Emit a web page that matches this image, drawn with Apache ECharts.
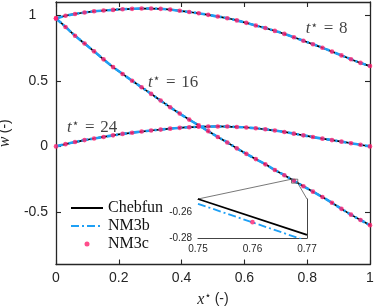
<!DOCTYPE html>
<html><head><meta charset="utf-8">
<script src="https://cdn.jsdelivr.net/npm/echarts@6/dist/echarts.min.js"></script>
<style>html,body{margin:0;padding:0;background:#fff}#c{width:374px;height:308px}</style>
</head><body><div id="c"></div>
<script>
// ---- data ----
const xGrid = [0,0.0303,0.0606,0.0909,0.1212,0.1515,0.1818,0.2121,0.2424,0.2727,0.3030,0.3333,0.3636,0.3939,0.4242,0.4545,0.4848,0.5152,0.5455,0.5758,0.6061,0.6364,0.6667,0.6970,0.7273,0.7576,0.7879,0.8182,0.8485,0.8788,0.9091,0.9394,0.9697,1];
const wT8  = [0.975,0.995,1.009,1.020,1.029,1.035,1.040,1.045,1.048,1.050,1.050,1.048,1.042,1.033,1.024,1.014,1.002,0.990,0.976,0.960,0.941,0.921,0.902,0.880,0.857,0.831,0.805,0.778,0.752,0.722,0.693,0.664,0.636,0.612];
const wT16 = [0.975,0.910,0.843,0.784,0.724,0.663,0.604,0.552,0.500,0.450,0.400,0.349,0.298,0.250,0.204,0.160,0.116,0.072,0.030,-0.015,-0.057,-0.097,-0.137,-0.180,-0.220,-0.262,-0.304,-0.345,-0.386,-0.430,-0.476,-0.520,-0.561,-0.600];
const wT24 = [0,0.017,0.033,0.048,0.060,0.072,0.084,0.095,0.104,0.113,0.121,0.128,0.135,0.141,0.146,0.149,0.151,0.152,0.151,0.148,0.144,0.138,0.130,0.121,0.110,0.097,0.084,0.071,0.059,0.048,0.036,0.024,0.012,0];
const xTicks = [0,0.2,0.4,0.6,0.8,1];
const yTicks = [-0.5,0,0.5,1];
const xRange = [0,1];
const yRange = [-0.9,1.1];
// inset
const insetXRange = [0.75,0.77];
const insetYRange = [-0.28,-0.25];
const insetXTicks = [0.75,0.76,0.77];
const insetYTicks = [-0.28,-0.26];
const insetChebX = [0.75,0.77];
const insetChebY = [-0.2500,-0.2776];
const insetNM3bX = [0.75,0.77];
const insetNM3bY = [-0.2537,-0.2823];
const insetNM3cX = [0.760];
const insetNM3cY = [-0.2678];
// annotations (data coordinates) and their t* values
const annotT = ['8','16','24'];
const annotX = [0.862,0.373,0.115];
const annotY = [0.895,0.488,0.147];

// ---- styles ----
const BLACK = '#000000', BLUE = '#1ea0f5', MAG = '#ff1f6e', AX = '#262626';
const pairs = (xs, ys) => xs.map((x,i)=>[x, ys[i]]);
const curves = [wT8, wT16, wT24];

const chart = echarts.init(document.getElementById('c'), null, {renderer:'canvas'});

const axisLineMain = {show:true, onZero:false, lineStyle:{color:AX, width:1.3}};
const axisLineInset = {show:true, onZero:false, lineStyle:{color:'#444', width:1}};
const tickMain = vals => ({show:true, inside:true, length:5, customValues:vals, lineStyle:{color:AX, width:1.1}});
const tickInset = vals => ({show:true, inside:true, length:3, customValues:vals, lineStyle:{color:'#444', width:1}});
const SP = '\u2004';

const series = [];
curves.forEach(c=>series.push({name:'Chebfun', type:'line', xAxisIndex:0, yAxisIndex:0,
  data:pairs(xGrid,c), symbol:'none', smooth:0.3, lineStyle:{color:BLACK, width:1.7}, itemStyle:{color:BLACK}, z:2, silent:true}));
curves.forEach(c=>series.push({name:'NM3b', type:'line', xAxisIndex:0, yAxisIndex:0,
  data:pairs(xGrid,c), symbol:'none', smooth:0.3, lineStyle:{color:BLUE, width:2.6, type:[7,2,2,2]}, itemStyle:{color:BLUE}, z:3, silent:true}));
curves.forEach(c=>series.push({name:'NM3c', type:'scatter', xAxisIndex:0, yAxisIndex:0,
  data:pairs(xGrid,c), symbol:'circle', symbolSize:4.6, itemStyle:{color:MAG}, z:4, silent:true}));
// inset series
series.push({name:'Chebfun', type:'line', xAxisIndex:2, yAxisIndex:2, data:pairs(insetChebX,insetChebY),
  symbol:'none', lineStyle:{color:BLACK, width:1.8}, z:5, silent:true, clip:true});
series.push({name:'NM3b', type:'line', xAxisIndex:2, yAxisIndex:2, data:pairs(insetNM3bX,insetNM3bY),
  symbol:'none', lineStyle:{color:BLUE, width:1.8, type:[8,3,2,3]}, z:5, silent:true, clip:true});
series.push({name:'NM3c', type:'scatter', xAxisIndex:2, yAxisIndex:2, data:pairs(insetNM3cX,insetNM3cY),
  symbol:'circle', symbolSize:4.6, itemStyle:{color:MAG}, z:6, silent:true});
// zoom rectangle on main plot
series.push({name:'zoomRect', type:'line', xAxisIndex:0, yAxisIndex:0, symbol:'none', silent:true, z:5,
  data:[[insetXRange[0],insetYRange[1]],[insetXRange[1],insetYRange[1]],[insetXRange[1],insetYRange[0]],[insetXRange[0],insetYRange[0]],[insetXRange[0],insetYRange[1]]],
  lineStyle:{color:'#555', width:0.8}});
// annotations
series.push({name:'annot', type:'scatter', xAxisIndex:0, yAxisIndex:0, symbolSize:1, silent:true, z:7,
  itemStyle:{color:'rgba(0,0,0,0)'},
  data:annotT.map((t,i)=>({name:t, value:[annotX[i], annotY[i]]})),
  label:{show:true, position:'inside', color:'#111',
    formatter:p=>'{i|t}{s|⋆}{n|'+SP+'='+SP+p.name+'}',
    rich:{
      i:{fontFamily:'Liberation Serif', fontStyle:'italic', fontSize:17, lineHeight:18},
      s:{fontFamily:'DejaVu Sans', fontSize:12, lineHeight:11, verticalAlign:'top'},
      n:{fontFamily:'Liberation Serif', fontSize:17, lineHeight:18}
    }}});

const option = {
  animation:false,
  backgroundColor:'#fff',
  grid:[
    {left:56, right:4, top:2, bottom:43.5, containLabel:false, outerBoundsMode:'none'},
    {left:198, top:199, width:109, height:39, show:true, backgroundColor:'#fff', borderWidth:0, z:4, containLabel:false, outerBoundsMode:'none'}
  ],
  legend:{
    data:[
      {name:'Chebfun', itemStyle:{opacity:0, color:'rgba(0,0,0,0)', borderWidth:0}},
      {name:'NM3b', itemStyle:{opacity:0, color:'rgba(0,0,0,0)', borderWidth:0}, lineStyle:{width:1.8, type:[8,3,2,3]}},
      {name:'NM3c'}
    ],
    orient:'vertical', left:65, top:194, itemWidth:32, itemHeight:5, itemGap:0,
    selectedMode:false,
    textStyle:{fontFamily:'Liberation Serif', fontSize:16, color:'#111', lineHeight:18}
  },
  xAxis:[
    {gridIndex:0, type:'value', min:xRange[0], max:xRange[1], interval:0.2, position:'bottom',
      axisLine:axisLineMain, axisTick:tickMain(xTicks), splitLine:{show:false},
      axisLabel:{customValues:xTicks, margin:7, fontFamily:'Liberation Sans', fontSize:14, color:AX, formatter:v=>String(v)},
      name:'{i|x}{s|⋆} {n|(-)}', nameLocation:'middle', nameGap:26,
      nameTextStyle:{color:AX, rich:{
        i:{fontFamily:'Liberation Serif', fontStyle:'italic', fontSize:16, lineHeight:18},
        s:{fontFamily:'DejaVu Sans', fontSize:11, lineHeight:10, verticalAlign:'top'},
        n:{fontFamily:'Liberation Sans', fontSize:14, lineHeight:18}}}},
    {gridIndex:0, type:'value', min:xRange[0], max:xRange[1], interval:0.2, position:'top',
      axisLine:axisLineMain, axisTick:tickMain(xTicks), splitLine:{show:false}, axisLabel:{show:false}},
    {gridIndex:1, type:'value', min:insetXRange[0], max:insetXRange[1], position:'bottom',
      axisLine:axisLineInset, axisTick:tickInset(insetXTicks), splitLine:{show:false},
      axisLabel:{customValues:insetXTicks, margin:6, fontFamily:'Liberation Sans', fontSize:10, color:AX, formatter:v=>v.toFixed(2)}},
    {gridIndex:1, type:'value', min:insetXRange[0], max:insetXRange[1], position:'top',
      axisLine:axisLineInset, axisTick:tickInset(insetXTicks), splitLine:{show:false}, axisLabel:{show:false}}
  ],
  yAxis:[
    {gridIndex:0, type:'value', min:yRange[0], max:yRange[1], position:'left',
      axisLine:axisLineMain, axisTick:tickMain(yTicks), splitLine:{show:false},
      axisLabel:{customValues:yTicks, margin:8, fontFamily:'Liberation Sans', fontSize:14, color:AX,
        formatter:v=> v===1 ? '1\u00a0\u00a0\u00a0' : String(v)},
      name:'{i|w} {n|(-)}', nameLocation:'middle', nameGap:39, nameRotate:90,
      nameTextStyle:{color:AX, rich:{
        i:{fontFamily:'Liberation Serif', fontStyle:'italic', fontSize:16, lineHeight:18},
        n:{fontFamily:'Liberation Sans', fontSize:14, lineHeight:18}}}},
    {gridIndex:0, type:'value', min:yRange[0], max:yRange[1], position:'right',
      axisLine:axisLineMain, axisTick:tickMain(yTicks), splitLine:{show:false}, axisLabel:{show:false}},
    {gridIndex:1, type:'value', min:insetYRange[0], max:insetYRange[1], position:'left',
      axisLine:axisLineInset, axisTick:tickInset(insetYTicks), splitLine:{show:false},
      axisLabel:{customValues:insetYTicks, margin:6, fontFamily:'Liberation Sans', fontSize:10, color:AX, formatter:v=>v.toFixed(2)}},
    {gridIndex:1, type:'value', min:insetYRange[0], max:insetYRange[1], position:'right',
      axisLine:axisLineInset, axisTick:tickInset(insetYTicks), splitLine:{show:false}, axisLabel:{show:false}}
  ],
  series:series
};
chart.setOption(option);

// connector lines between zoom rectangle and inset, positioned through the axes
const rTL = chart.convertToPixel({xAxisIndex:0, yAxisIndex:0}, [insetXRange[0], insetYRange[1]]);
const rBR = chart.convertToPixel({xAxisIndex:0, yAxisIndex:0}, [insetXRange[1], insetYRange[0]]);
const iTL = chart.convertToPixel({xAxisIndex:2, yAxisIndex:2}, [insetXRange[0], insetYRange[1]]);
const iTR = chart.convertToPixel({xAxisIndex:2, yAxisIndex:2}, [insetXRange[1], insetYRange[1]]);
chart.setOption({graphic:[
  {type:'line', silent:true, z:3, shape:{x1:rTL[0], y1:rTL[1], x2:iTL[0], y2:iTL[1]}, style:{stroke:'#555', lineWidth:0.8}},
  {type:'line', silent:true, z:3, shape:{x1:rBR[0], y1:rBR[1], x2:iTR[0], y2:iTR[1]}, style:{stroke:'#555', lineWidth:0.8}}
]});
</script>
</body></html>
